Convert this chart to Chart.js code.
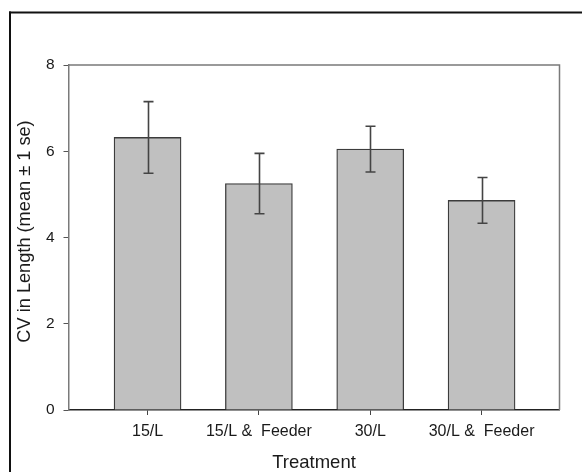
<!DOCTYPE html>
<html>
<head>
<meta charset="utf-8">
<script src="https://cdn.jsdelivr.net/npm/chart.js@4"></script>
<style>
  html, body { margin: 0; padding: 0; background: #fff; }
  #wrap { position: relative; width: 582px; height: 472px; }
</style>
</head>
<body>
<div id="wrap"><canvas id="cv-chart" width="582" height="472"></canvas></div>
<script>
(function () {
    "use strict";

    const treatments = ["15/L", "15/L &  Feeder", "30/L", "30/L &  Feeder"];
    const positions = [1, 2, 3, 4];
    const meanCV = [6.32, 5.25, 6.05, 4.86];
    const seCV = [0.83, 0.70, 0.53, 0.53];
    const yTicks = [0, 2, 4, 6, 8];

    const ink = "#1a1a1a";
    const frame = "#7a7a7a";

    // outer box + plot frame + error bars
    const decor = {
        id: "decor",
        beforeDraw: function (chart) {
            const ctx = chart.ctx;
            ctx.save();
            ctx.fillStyle = "#111";
            ctx.fillRect(9, 11.5, 2, 472);
            ctx.fillRect(9, 11.5, 582, 2);
            ctx.restore();
        },
        afterDatasetsDraw: function (chart) {
            const ctx = chart.ctx;
            const x = chart.scales.x;
            const y = chart.scales.y;
            const a = chart.chartArea;
            ctx.save();
            ctx.strokeStyle = "#444";
            ctx.lineWidth = 1.6;
            positions.forEach(function (p, i) {
                const px = Math.round(x.getPixelForValue(p)) + 0.5;
                const hi = y.getPixelForValue(meanCV[i] + seCV[i]);
                const lo = y.getPixelForValue(meanCV[i] - seCV[i]);
                ctx.beginPath();
                ctx.moveTo(px, hi);
                ctx.lineTo(px, lo);
                ctx.moveTo(px - 5, hi);
                ctx.lineTo(px + 5, hi);
                ctx.moveTo(px - 5, lo);
                ctx.lineTo(px + 5, lo);
                ctx.stroke();
            });
            ctx.strokeStyle = frame;
            ctx.lineWidth = 1.5;
            ctx.beginPath();
            ctx.moveTo(a.left, a.top);
            ctx.lineTo(a.right, a.top);
            ctx.lineTo(a.right, a.bottom);
            ctx.stroke();
            ctx.restore();
        },
        afterDraw: function (chart) {
            const ctx = chart.ctx;
            ctx.save();
            ctx.translate(25, 231.5);
            ctx.rotate(-Math.PI / 2);
            ctx.fillStyle = ink;
            ctx.font = "18.2px 'Liberation Sans', Arial, sans-serif";
            ctx.textAlign = "center";
            ctx.textBaseline = "middle";
            ctx.fillText("CV in Length (mean \u00b1 1 se)", 0, 0);
            ctx.restore();
        }
    };

    document.addEventListener("DOMContentLoaded", function () {
        Chart.defaults.font.family = "'Liberation Sans', Arial, sans-serif";
        Chart.defaults.color = ink;

        new Chart(document.getElementById("cv-chart").getContext("2d"), {
            type: "bar",
            data: {
                datasets: [{
                    data: positions.map(function (p, i) { return { x: p, y: meanCV[i] }; }),
                    backgroundColor: "#c0c0c0",
                    borderColor: "#3c3c3c",
                    borderWidth: 1.3,
                    barThickness: 67,
                }],
            },
            options: {
                responsive: false,
                animation: false,
                layout: { padding: { left: 0, top: 65, right: 22.5, bottom: 0 } },
                plugins: { legend: { display: false }, tooltip: { enabled: false } },
                scales: {
                    x: {
                        type: "linear",
                        min: 0.29,
                        max: 4.70,
                        offset: false,
                        afterBuildTicks: function (scale) {
                            scale.ticks = positions.map(function (v) { return { value: v }; });
                        },
                        afterFit: function (scale) { scale.height = 62; },
                        ticks: {
                            autoSkip: false,
                            maxRotation: 0,
                            padding: 6.5,
                            color: ink,
                            font: { size: 16 },
                            callback: function (v, i) { return treatments[i]; },
                        },
                        grid: { offset: false, drawOnChartArea: false, drawTicks: true, tickLength: 5, tickColor: "#444" },
                        border: { color: "#222", width: 1.5 },
                        title: {
                            display: true,
                            text: "Treatment",
                            color: ink,
                            padding: 0,
                            font: { size: 18.5, lineHeight: 1 },
                        },
                    },
                    y: {
                        min: 0,
                        max: 8,
                        afterBuildTicks: function (scale) {
                            scale.ticks = yTicks.map(function (v) { return { value: v }; });
                        },
                        afterFit: function (scale) { scale.width = 68.5; },
                        ticks: { padding: 9, color: ink, font: { size: 15.5 } },
                        grid: { drawOnChartArea: false, drawTicks: true, tickLength: 5, tickColor: "#555" },
                        border: { color: frame, width: 1.5 },
                    },
                },
            },
            plugins: [decor],
        });
    });
})();
</script>
</body>
</html>
